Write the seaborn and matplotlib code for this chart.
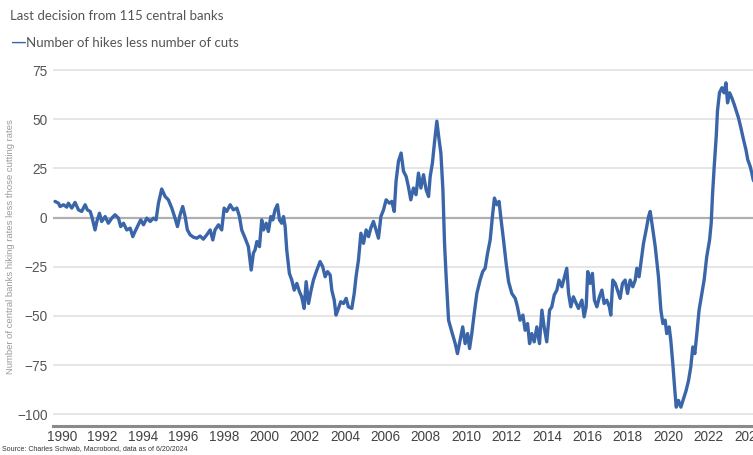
import matplotlib
matplotlib.use("Agg")
import pandas
import matplotlib.pyplot as plt
import seaborn as sns

# net number of central banks hiking minus cutting (last decision, 115 banks)
years = [
    1989.65, 1989.82, 1989.90, 1990.07, 1990.23, 1990.31, 1990.48, 1990.64, 1990.81, 1990.97,
    1991.14, 1991.25, 1991.39, 1991.47, 1991.63, 1991.72, 1991.85, 1991.96, 1992.13, 1992.29,
    1992.46, 1992.62, 1992.79, 1992.90, 1993.04, 1993.20, 1993.37, 1993.50, 1993.61, 1993.73,
    1993.89, 1994.03, 1994.19, 1994.36, 1994.52, 1994.65, 1994.77, 1994.93, 1995.10, 1995.26,
    1995.43, 1995.59, 1995.71, 1995.84, 1995.97, 1996.09, 1996.20, 1996.34, 1996.50, 1996.67,
    1996.83, 1996.99, 1997.16, 1997.33, 1997.46, 1997.57, 1997.74, 1997.90, 1998.02, 1998.15,
    1998.32, 1998.48, 1998.65, 1998.78, 1998.89, 1999.06, 1999.22, 1999.36, 1999.47, 1999.55,
    1999.64, 1999.77, 1999.88, 1999.97, 2000.10, 2000.21, 2000.33, 2000.43, 2000.54, 2000.66,
    2000.76, 2000.87, 2000.96, 2001.04, 2001.12, 2001.25, 2001.37, 2001.49, 2001.62, 2001.75,
    2001.86, 2001.98, 2002.08, 2002.20, 2002.31, 2002.44, 2002.61, 2002.77, 2002.90, 2003.02,
    2003.14, 2003.27, 2003.35, 2003.47, 2003.56, 2003.68, 2003.79, 2003.93, 2004.06, 2004.17,
    2004.34, 2004.46, 2004.55, 2004.67, 2004.79, 2004.92, 2005.05, 2005.17, 2005.28, 2005.41,
    2005.54, 2005.66, 2005.78, 2005.91, 2006.04, 2006.20, 2006.32, 2006.44, 2006.53, 2006.65,
    2006.78, 2006.90, 2007.03, 2007.14, 2007.26, 2007.39, 2007.52, 2007.64, 2007.76, 2007.89,
    2008.02, 2008.14, 2008.22, 2008.33, 2008.43, 2008.55, 2008.66, 2008.75, 2008.85, 2008.93,
    2009.01, 2009.13, 2009.29, 2009.46, 2009.57, 2009.70, 2009.83, 2009.95, 2010.07, 2010.17,
    2010.28, 2010.40, 2010.53, 2010.69, 2010.82, 2010.94, 2011.06, 2011.19, 2011.30, 2011.40,
    2011.52, 2011.63, 2011.73, 2011.85, 2011.98, 2012.10, 2012.26, 2012.43, 2012.54, 2012.67,
    2012.81, 2012.92, 2013.04, 2013.14, 2013.25, 2013.37, 2013.50, 2013.63, 2013.75, 2013.86,
    2013.99, 2014.13, 2014.24, 2014.36, 2014.49, 2014.60, 2014.74, 2014.85, 2014.98, 2015.07,
    2015.18, 2015.31, 2015.45, 2015.56, 2015.73, 2015.84, 2015.94, 2016.02, 2016.14, 2016.25,
    2016.35, 2016.47, 2016.60, 2016.72, 2016.83, 2016.96, 2017.09, 2017.16, 2017.26, 2017.38,
    2017.49, 2017.62, 2017.74, 2017.87, 2017.99, 2018.12, 2018.25, 2018.37, 2018.45, 2018.56,
    2018.66, 2018.78, 2018.91, 2019.03, 2019.11, 2019.22, 2019.36, 2019.52, 2019.64, 2019.74,
    2019.85, 2019.93, 2020.05, 2020.13, 2020.23, 2020.33, 2020.40, 2020.51, 2020.63, 2020.76,
    2020.89, 2021.01, 2021.12, 2021.22, 2021.32, 2021.42, 2021.53, 2021.67, 2021.78, 2021.91,
    2022.05, 2022.13, 2022.20, 2022.28, 2022.38, 2022.44, 2022.54, 2022.66, 2022.77, 2022.86,
    2022.94, 2023.04, 2023.15, 2023.27, 2023.40, 2023.48, 2023.60, 2023.73, 2023.85, 2023.94,
    2024.06, 2024.14, 2024.21, 2024.32, 2024.47,
]
net_hikes = [
    8.2, 7.3, 5.6, 6.5, 5.3, 7.3, 4.8, 7.7, 3.9, 3.1,
    6.5, 3.9, 3.1, 0.5, -6.3, -2.0, 2.2, -2.0, 0.5, -2.9,
    -0.3, 1.4, -0.3, -4.6, -2.9, -6.3, -5.4, -9.7, -7.1, -4.6,
    -1.2, -3.7, -0.3, -2.0, -0.3, -1.2, 7.3, 14.5, 10.7, 9.0,
    4.8, -0.3, -4.6, 1.4, 5.6, 0.5, -6.3, -8.8, -10.0, -10.5,
    -9.4, -11.0, -8.8, -6.3, -11.4, -6.3, -3.7, -6.3, 4.8, 3.1,
    6.5, 3.9, 4.8, 0.5, -6.3, -10.5, -14.8, -26.7, -18.0, -16.5,
    -12.2, -14.8, -1.2, -6.3, -2.9, -7.1, 0.5, -1.2, 3.9, 6.5,
    -1.2, -2.9, 0.5, -4.6, -16.5, -28.4, -31.8, -36.9, -33.5, -37.7,
    -40.3, -46.2, -32.6, -43.7, -37.7, -31.8, -26.7, -22.4, -25.0, -30.1,
    -27.5, -29.2, -36.9, -42.0, -49.6, -46.2, -42.8, -43.7, -41.1, -45.4,
    -46.2, -38.6, -30.1, -21.6, -8.0, -13.1, -6.3, -9.7, -5.4, -2.0,
    -6.3, -10.5, 0.5, 3.9, 9.0, 7.3, 8.2, 3.1, 18.4, 28.6,
    32.8, 23.5, 20.9, 15.8, 9.0, 15.0, 11.6, 22.6, 15.0, 21.8,
    14.1, 10.7, 20.9, 27.7, 37.9, 49.0, 39.6, 32.8, 14.1, -13.1,
    -30.1, -52.2, -58.1, -64.1, -69.2, -62.4, -55.6, -64.1, -59.0, -66.6,
    -59.0, -48.8, -38.6, -31.8, -27.5, -25.8, -18.2, -11.4, 0.5, 9.9,
    6.5, 8.2, -1.2, -11.4, -23.3, -32.6, -38.6, -41.1, -45.4, -52.2,
    -49.6, -57.3, -53.9, -64.1, -59.0, -63.2, -55.6, -64.1, -47.1, -55.6,
    -63.2, -47.1, -45.4, -39.4, -36.9, -31.8, -35.2, -30.9, -25.8, -38.6,
    -45.4, -40.3, -43.7, -46.2, -42.0, -50.5, -45.4, -27.5, -33.5, -28.4,
    -42.0, -45.4, -40.3, -36.9, -43.7, -42.0, -45.4, -49.6, -31.8, -33.5,
    -36.9, -41.1, -33.5, -31.8, -38.6, -31.8, -35.2, -31.8, -25.8, -30.1,
    -22.4, -13.1, -6.3, 0.5, 3.1, -4.6, -14.8, -30.1, -47.1, -53.9,
    -52.2, -59.0, -55.6, -62.4, -74.3, -87.9, -96.4, -93.0, -96.4, -92.1,
    -87.9, -82.8, -76.0, -65.8, -69.2, -59.0, -47.1, -38.6, -31.8, -19.9,
    -11.4, -2.9, 12.4, 26.0, 41.3, 54.1, 63.4, 66.0, 63.4, 68.5,
    58.3, 63.4, 60.9, 57.5, 53.2, 50.7, 45.6, 39.6, 34.5, 29.4,
    26.0, 22.6, 19.2, 17.0, 15.0,
]

year_ticks = list(range(1990, 2025, 2))
value_ticks = [-100, -75, -50, -25, 0, 25, 50, 75]

LINE_BLUE = "#3A66A9"

df = pandas.DataFrame({"year": years, "net": net_hikes})

sns.set_style("white")
plt.rcParams["font.family"] = ["Liberation Sans", "DejaVu Sans"]

fig = plt.figure(figsize=(7.53, 4.55), dpi=100)
ax = fig.add_axes([0.0704, 0.0637, 0.939, 0.804])

for v in value_ticks:
    if v == 0:
        ax.axhline(v, color="#b0b0b0", lw=1.6, zorder=1)
    else:
        ax.axhline(v, color="#e2e2e2", lw=1.2, zorder=1)

sns.lineplot(data=df, x="year", y="net", ax=ax, color=LINE_BLUE, lw=2.4, zorder=3)

ax.set_xlim(1989.55, 2024.55)
ax.set_ylim(-106, 80)
ax.set_xticks(year_ticks)
ax.set_xticklabels([str(y) for y in year_ticks])
ax.set_yticks(value_ticks)
ax.tick_params(axis="x", labelsize=9.8, colors="#444444", length=0, pad=3)
ax.tick_params(axis="y", labelsize=9.8, colors="#555555", length=0, pad=4)
ax.set_xlabel("")
ax.set_ylabel("Number of central banks hiking rates less those cutting rates",
              fontsize=6.8, color="#9a9a9a")
ax.yaxis.set_label_coords(-0.054, 0.49)

for side in ["top", "right", "left"]:
    ax.spines[side].set_visible(False)
ax.spines["bottom"].set_color("#8a8a8a")
ax.spines["bottom"].set_linewidth(2.2)

fig.text(0.013, 0.965, "Last decision from 115 central banks", fontsize=9.5,
         color="#555555", family=["Lato", "DejaVu Sans"], va="center")
fig.text(0.016, 0.906, "\u2014", fontsize=10, color=LINE_BLUE, va="center",
         fontweight="bold")
fig.text(0.034, 0.906, "Number of hikes less number of cuts", fontsize=9.5,
         color="#555555", family=["Lato", "DejaVu Sans"], va="center")
fig.text(0.002, 0.01, "Source: Charles Schwab, Macrobond, data as of 6/20/2024",
         fontsize=5, color="#333333")

fig.savefig("out.png", dpi=100)
